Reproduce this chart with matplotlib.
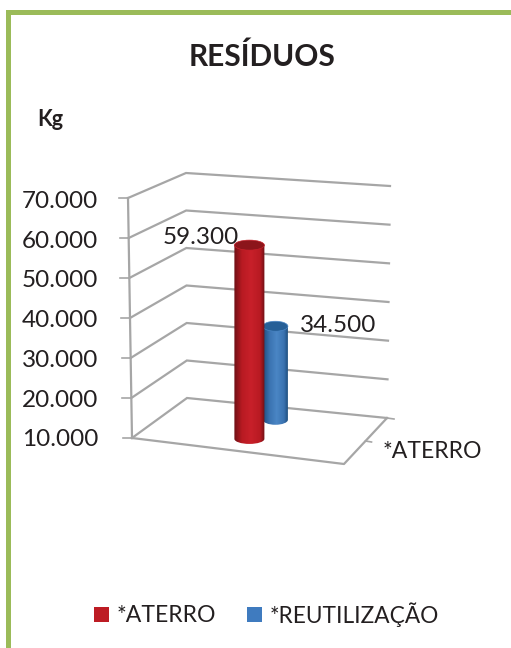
import numpy as np
import matplotlib
matplotlib.use("Agg")
import matplotlib.pyplot as plt
from matplotlib.colors import LinearSegmentedColormap
from matplotlib.patches import Ellipse, PathPatch, Rectangle
from matplotlib.path import Path

plt.rcParams['font.family'] = ['Lato', 'DejaVu Sans']

# chart data
title = "RESÍDUOS"
unit = "Kg"
category = "*ATERRO"
series_names = ["*ATERRO", "*REUTILIZAÇÃO"]
series_values = [59300, 34500]
value_labels = ["59.300", "34.500"]
axis_ticks = [10000, 20000, 30000, 40000, 50000, 60000, 70000]

# colours: dark edge, mid, highlight, top cap, legend
reds = ["#6e1015", "#b81a22", "#c8202a", "#8c151b", "#bd1c24"]
blues = ["#1f4f80", "#3a72b0", "#4a86c5", "#265f97", "#3f7bbf"]
grid_gray = "#a6a6a6"
text_col = "#231f20"

# the 3d box, in pixels of the figure
front_left = np.array([132.0, 438.0])
front_right = np.array([344.0, 464.0])
back_left = np.array([187.0, 398.0])
back_right = np.array([387.0, 418.0])
h_front = 40.0   # pixels per 10.000 at front
h_back = 37.5    # same at the back
vmin = axis_ticks[0]


def floor_pt(u, d):
    front = front_left + u * (front_right - front_left)
    back = back_left + u * (back_right - back_left)
    return front + d * (back - front)


def project(u, d, v):
    # u along the category axis, d depth, v the value
    p = floor_pt(u, d)
    h = h_front + d * (h_back - h_front)
    return np.array([p[0], p[1] - (v - vmin) / 10000 * h])


def cylinder(ax, u, d, value, half_w, cap_h, cols, zorder):
    bx, by = project(u, d, vmin)
    tx, ty = project(u, d, value)
    k = 0.5523
    ch = cap_h / 2
    verts = [(bx - half_w, ty), (bx - half_w, by),
             (bx - half_w, by + k * ch), (bx - k * half_w, by + ch), (bx, by + ch),
             (bx + k * half_w, by + ch), (bx + half_w, by + k * ch), (bx + half_w, by),
             (bx + half_w, ty), (bx - half_w, ty)]
    codes = [Path.MOVETO, Path.LINETO, Path.CURVE4, Path.CURVE4, Path.CURVE4,
             Path.CURVE4, Path.CURVE4, Path.CURVE4, Path.LINETO, Path.CLOSEPOLY]
    clip = PathPatch(Path(verts, codes), fc="none", ec="none", zorder=zorder)
    ax.add_patch(clip)
    cmap = LinearSegmentedColormap.from_list(
        "cyl", [(0, cols[0]), (0.25, cols[1]), (0.55, cols[2]), (0.85, cols[1]), (1, cols[0])])
    grad = np.linspace(0, 1, 64).reshape(1, -1)
    im = ax.imshow(grad, cmap=cmap, aspect="auto", zorder=zorder,
                   extent=(bx - half_w, bx + half_w, by + ch, ty))
    im.set_clip_path(clip)
    ax.add_patch(Ellipse((bx, ty), 2 * half_w, cap_h, fc=cols[3], ec=cols[2],
                         lw=0.5, zorder=zorder + 0.1))


fig = plt.figure(figsize=(5.11, 6.48), dpi=100)
ax = fig.add_axes([0, 0, 1, 1])
ax.axis("off")

# green frame
ax.add_patch(Rectangle((6, 10), 505, 5, fc="#9bbb59", ec="none"))
ax.add_patch(Rectangle((6, 10), 5, 638, fc="#9bbb59", ec="none"))

# gridlines on side and back walls
for v in axis_ticks:
    t = (v - vmin) / (axis_ticks[-1] - vmin)
    a = project(0, 0, v) + [-4 * t, 0]
    b = project(0, 1, v) + [-1 * t, 0]
    c = project(1, 1, v) + [3 * t, -7 * t]
    ax.plot([a[0], b[0], c[0]], [a[1], b[1], c[1]], color=grid_gray, lw=1.6,
            solid_joinstyle="miter", zorder=1)
    ax.plot([a[0] - 9, a[0]], [a[1], a[1]], color=grid_gray, lw=1.2, zorder=1)
    label = f"{v:,.0f}".replace(",", ".")
    ax.text(60, a[1] + 3.3 - 1.3 * (1 - t), label, ha="center", va="center", fontsize=17.5, color=text_col)

# floor and the front upright
top = project(0, 0, axis_ticks[-1]) + [-4, 0]
ax.plot([front_left[0], top[0]], [front_left[1], top[1]], color=grid_gray, lw=1.6, zorder=1)
ax.plot([front_left[0], front_right[0], back_right[0]],
        [front_left[1], front_right[1], back_right[1]], color=grid_gray, lw=1.6, zorder=1)
mid = floor_pt(1, 0.5)
ax.plot([mid[0], mid[0] + 6], [mid[1], mid[1] + 1], color=grid_gray, lw=1.2, zorder=1)
ax.plot([back_right[0], back_right[0] + 7], [back_right[1], back_right[1] + 1],
        color=grid_gray, lw=1.2, zorder=1)

# back cylinder first, the red one stands in front of it
cylinder(ax, 0.508, 0.73, series_values[1], 12.5, 10, blues, 3)
cylinder(ax, 0.49, 0.275, series_values[0], 15, 10, reds, 4)

# texts
ax.text(262, 57, title, ha="center", va="center", fontsize=21.5, fontweight="bold", color=text_col)
ax.text(50, 120, unit, ha="center", va="center", fontsize=15.5, fontweight="bold", color=text_col)
ax.text(200.5, 237, value_labels[0], ha="center", va="center", fontsize=17.5, color=text_col, zorder=6)
ax.text(338, 325, value_labels[1], ha="center", va="center", fontsize=17.5, color=text_col, zorder=6)
ax.text(432, 452, category, ha="center", va="center", fontsize=16.6, color=text_col)

# legend
ax.add_patch(Rectangle((94, 607), 15, 15, fc=reds[4], ec="none"))
ax.add_patch(Rectangle((247, 607), 15, 15, fc=blues[4], ec="none"))
ax.text(117, 615, series_names[0], ha="left", va="center", fontsize=16.6, color=text_col)
ax.text(270, 615, series_names[1], ha="left", va="center", fontsize=16.3, color=text_col)

ax.set_xlim(0, 511)
ax.set_ylim(648, 0)
fig.savefig("out.png", dpi=100)
